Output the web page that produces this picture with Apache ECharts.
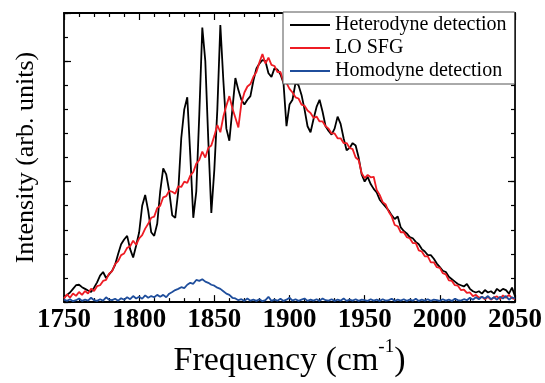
<!DOCTYPE html>
<html><head><meta charset="utf-8">
<script src="https://cdn.jsdelivr.net/npm/echarts@6/dist/echarts.min.js"></script>
<style>html,body{margin:0;padding:0;background:#fff}#c{width:545px;height:383px}</style>
</head><body><div id="c"></div>
<script>
const freq = [1750,1752,1754,1756,1758,1760,1762,1764,1766,1768,1770,1772,1774,1776,1778,1780,1782,1784,1786,1788,
1790,1792,1794,1796,1798,1800,1802,1804,1806,1808,1810,1812,1814,1816,1818,1820,1822,1824,1826,1828,
1830,1832,1834,1836,1838,1840,1842,1844,1846,1848,1850,1852,1854,1856,1858,1860,1862,1864,1866,1868,
1870,1872,1874,1876,1878,1880,1882,1884,1886,1888,1890,1892,1894,1896,1898,1900,1902,1904,1906,1908,
1910,1912,1914,1916,1918,1920,1922,1924,1926,1928,1930,1932,1934,1936,1938,1940,1942,1944,1946,1948,
1950,1952,1954,1956,1958,1960,1962,1964,1966,1968,1970,1972,1974,1976,1978,1980,1982,1984,1986,1988,
1990,1992,1994,1996,1998,2000,2002,2004,2006,2008,2010,2012,2014,2016,2018,2020,2022,2024,2026,2028,
2030,2032,2034,2036,2038,2040,2042,2044,2046,2048,2050];

const heterodyne = [0.20,0.30,0.40,0.55,0.70,0.72,0.62,0.55,0.48,0.42,0.60,0.82,1.10,1.25,1.00,1.15,1.30,1.55,2.00,2.40,
2.60,2.75,2.20,1.85,2.35,2.90,4.00,4.45,3.80,2.90,2.75,3.25,4.60,5.55,5.30,4.60,3.60,3.50,4.60,6.80,
8.00,8.50,6.10,3.50,4.60,7.80,11.40,10.00,6.70,3.70,5.50,8.00,11.50,9.20,7.20,6.70,8.00,9.30,8.80,8.40,
8.20,8.40,8.55,9.20,9.70,9.90,10.05,10.00,9.50,9.35,9.70,9.65,9.45,9.10,7.30,8.20,8.40,9.10,9.00,8.60,
8.00,7.30,7.05,7.60,8.10,8.40,7.90,7.30,7.10,6.95,7.20,7.70,7.40,6.80,6.30,6.40,6.60,6.50,6.00,5.30,
5.00,5.20,4.90,4.70,4.55,4.25,4.10,3.95,3.80,3.60,3.45,3.55,3.10,2.95,2.85,2.70,2.65,2.50,2.40,2.20,
2.10,1.95,1.95,1.80,1.60,1.45,1.30,1.25,1.05,0.95,0.85,0.75,0.70,0.65,0.75,0.55,0.45,0.40,0.45,0.35,
0.50,0.40,0.45,0.35,0.55,0.45,0.55,0.50,0.35,0.60,0.25];

const loSFG = [0.15,0.32,0.18,0.36,0.26,0.42,0.30,0.46,0.36,0.56,0.46,0.66,0.70,0.88,0.92,1.18,1.28,1.58,1.70,1.95,
2.02,2.25,2.32,2.55,2.38,2.65,2.78,3.05,3.25,3.50,3.55,3.90,4.00,4.35,4.40,4.62,4.58,4.50,4.80,4.78,
5.00,4.95,5.25,5.40,5.75,5.90,6.25,6.00,6.40,6.50,6.90,7.35,7.05,7.70,8.15,8.55,8.05,7.65,7.25,8.25,
8.70,8.95,9.05,9.35,9.55,9.95,10.30,9.90,10.15,9.85,9.80,9.55,9.55,9.15,9.10,8.85,8.70,8.50,8.45,8.20,
8.15,7.95,7.85,7.65,7.70,7.50,7.50,7.30,7.20,7.00,7.00,6.80,6.80,6.60,6.60,6.40,6.35,6.00,5.90,5.35,
5.15,5.28,5.18,5.20,4.65,4.45,4.15,4.05,3.75,3.55,3.20,3.15,2.90,2.90,2.70,2.65,2.45,2.45,2.15,2.10,
1.90,1.90,1.65,1.65,1.45,1.42,1.20,1.15,0.90,0.88,0.70,0.68,0.50,0.52,0.38,0.40,0.25,0.30,0.18,0.22,
0.12,0.22,0.10,0.20,0.24,0.12,0.28,0.18,0.30,0.16,0.12];

const homodyne = [0.10,0.05,0.12,0.04,0.08,0.15,0.05,0.10,0.06,0.18,0.08,0.05,0.12,0.06,0.20,0.10,0.08,0.14,0.06,0.16,
0.10,0.20,0.12,0.25,0.15,0.22,0.14,0.28,0.18,0.25,0.20,0.30,0.22,0.30,0.20,0.35,0.42,0.50,0.55,0.62,
0.58,0.72,0.80,0.76,0.92,0.88,0.95,0.85,0.80,0.72,0.68,0.60,0.55,0.45,0.35,0.30,0.18,0.15,0.08,0.12,
0.05,0.15,0.06,0.10,0.05,0.12,0.04,0.08,0.22,0.05,0.10,0.06,0.14,0.05,0.10,0.18,0.06,0.12,0.05,0.10,
0.15,0.05,0.10,0.06,0.12,0.05,0.15,0.08,0.06,0.12,0.05,0.10,0.06,0.15,0.05,0.10,0.06,0.12,0.05,0.10,
0.08,0.05,0.12,0.06,0.10,0.05,0.12,0.06,0.08,0.14,0.05,0.10,0.06,0.12,0.05,0.10,0.06,0.14,0.05,0.10,
0.06,0.12,0.05,0.10,0.08,0.05,0.12,0.06,0.10,0.05,0.14,0.08,0.06,0.12,0.08,0.18,0.10,0.20,0.12,0.22,
0.15,0.25,0.12,0.20,0.10,0.22,0.15,0.25,0.10,0.20,0.15];

const seriesNames = ['Heterodyne detection', 'LO SFG', 'Homodyne detection'];
const seriesColors = ['#000000', '#ee1c24', '#1f4e9c'];
const seriesValues = [heterodyne, loSFG, homodyne];

const serif = 'Liberation Serif';
const tickLine = {color: '#000', width: 1.2};
const axLine = {show: true, onZero: false, lineStyle: {color: '#000', width: 1.8}};

function xAx(pos, withLabels) {
  const a = {
    type: 'value', min: 1750, max: 2050, interval: 50, position: pos,
    axisLine: axLine,
    axisTick: {show: true, inside: true, length: 7, lineStyle: tickLine},
    minorTick: {show: true, splitNumber: 5, length: 4, lineStyle: tickLine},
    axisLabel: {show: withLabels, fontFamily: serif, fontWeight: 'bold', fontSize: 27, color: '#000', margin: 4,
      formatter: v => String(v)},
    splitLine: {show: false}, minorSplitLine: {show: false}
  };
  if (withLabels) {
    a.name = '{a|Frequency (cm}{s|-1}{a|)}';
    a.nameLocation = 'middle';
    a.nameGap = 31;
    a.nameTextStyle = {
      rich: {
        a: {fontFamily: serif, fontSize: 34, color: '#000', lineHeight: 40, verticalAlign: 'bottom'},
        s: {fontFamily: serif, fontSize: 19, color: '#000', lineHeight: 40, verticalAlign: 'top'}
      }
    };
  }
  return a;
}
function yAx(pos, interval, len, showLine, name) {
  const a = {
    type: 'value', min: 0, max: 12, interval: interval, position: pos,
    axisLine: showLine ? axLine : {show: false, onZero: false},
    axisTick: {show: true, inside: true, length: len, lineStyle: tickLine},
    axisLabel: {show: false},
    splitLine: {show: false}
  };
  if (name) {
    a.name = name;
    a.nameLocation = 'middle';
    a.nameGap = 25;
    a.nameTextStyle = {fontFamily: serif, fontSize: 26, color: '#000'};
  }
  return a;
}

const chart = echarts.init(document.getElementById('c'), null, {renderer: 'canvas'});
chart.setOption({
  animation: false,
  backgroundColor: '#fff',
  grid: {left: 64, right: 28, top: 13, bottom: 62, containLabel: false},
  xAxis: [xAx('bottom', true), xAx('top', false)],
  yAxis: [
    yAx('left', 1, 4, true, 'Intensity (arb. units)'),
    yAx('left', 5, 7, false),
    yAx('right', 1, 4, true),
    yAx('right', 5, 7, false)
  ],
  legend: {
    left: 283, top: 12, orient: 'vertical',
    icon: 'rect', itemWidth: 40, itemHeight: 2, itemGap: 3,
    padding: [3, 8, 3, 7],
    borderColor: '#555', borderWidth: 1, backgroundColor: '#fff',
    textStyle: {fontFamily: serif, fontSize: 20, color: '#000', lineHeight: 20},
    data: seriesNames
  },
  series: seriesNames.map((n, i) => ({
    name: n, type: 'line', symbol: 'none', xAxisIndex: 0, yAxisIndex: 0,
    data: freq.map((f, j) => [f, seriesValues[i][j]]),
    lineStyle: {color: seriesColors[i], width: 1.8},
    itemStyle: {color: seriesColors[i]},
    z: 2 + i
  }))
});
</script></body></html>
